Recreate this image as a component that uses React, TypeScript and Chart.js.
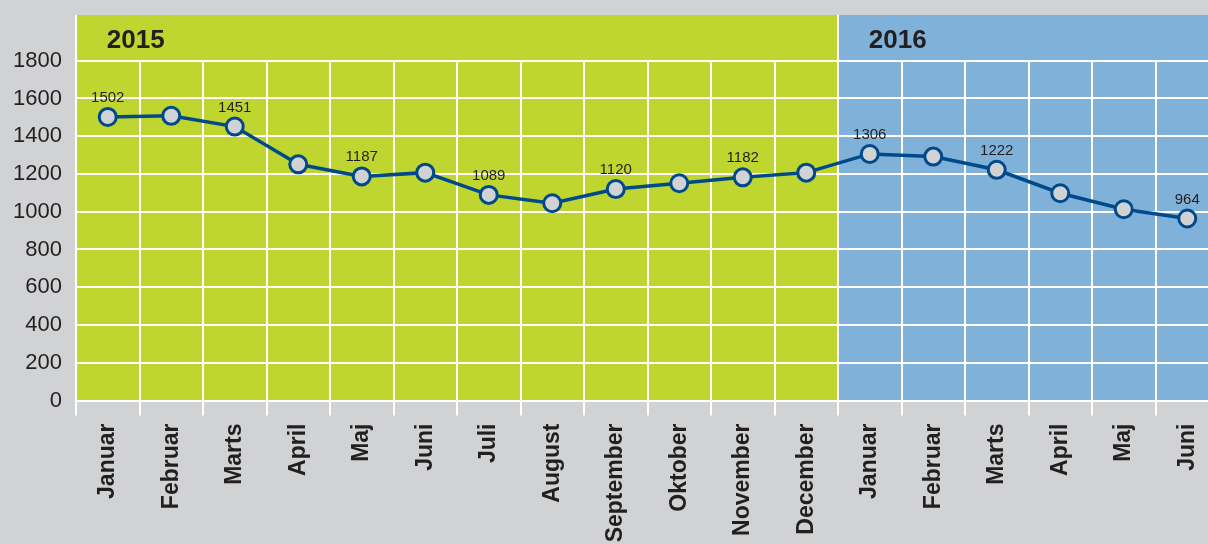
import React, { useEffect, useRef } from "react";
import { Chart, registerables } from "chart.js";

Chart.register(...registerables);

const months = [
  "Januar", "Februar", "Marts", "April", "Maj", "Juni", "Juli", "August",
  "September", "Oktober", "November", "December",
  "Januar", "Februar", "Marts", "April", "Maj", "Juni",
];
const values = [
  1502, 1508, 1451, 1251, 1187, 1207, 1089, 1045, 1120, 1151, 1182, 1207,
  1306, 1292, 1222, 1098, 1013, 964,
];
const labeledIndices = [0, 2, 4, 6, 8, 10, 12, 14, 17];
const yearLabels = ["2015", "2016"];
const yearStarts = [0, 12];
const yTicks = [0, 200, 400, 600, 800, 1000, 1200, 1400, 1600, 1800];
const yMax = 2042;

const BG = "#d1d2d4";
const GREEN = "#bed62f";
const BLUE = "#80b1d9";
const LINE = "#00498a";
const TEXT = "#231f20";
const FONT = "'Liberation Sans', Arial, Helvetica, sans-serif";

const decorPlugin = {
  id: "decor",
  beforeDraw(chart: any) {
    const { ctx, chartArea, scales } = chart;
    const x = scales.x;
    ctx.save();
    ctx.fillStyle = BG;
    ctx.fillRect(0, 0, chart.width, chart.height);
    const split = x.getPixelForValue(yearStarts[1] - 0.5);
    ctx.fillStyle = GREEN;
    ctx.fillRect(chartArea.left, chartArea.top, split - chartArea.left, chartArea.bottom - chartArea.top);
    ctx.fillStyle = BLUE;
    ctx.fillRect(split, chartArea.top, chart.width - split, chartArea.bottom - chartArea.top);
    ctx.restore();
  },
  beforeDatasetsDraw(chart: any) {
    const { ctx, chartArea, scales } = chart;
    const x = scales.x;
    const y = scales.y;
    const tickLen = 15;
    ctx.save();
    ctx.strokeStyle = "#ffffff";
    ctx.lineWidth = 2;
    yTicks.forEach((v) => {
      const py = Math.round(y.getPixelForValue(v));
      ctx.beginPath();
      ctx.moveTo(chartArea.left, py);
      ctx.lineTo(chart.width, py);
      ctx.stroke();
    });
    const gridTop = y.getPixelForValue(yTicks[yTicks.length - 1]);
    for (let i = 0; i < months.length; i++) {
      const px = Math.round(x.getPixelForValue(i - 0.5));
      const isSplit = yearStarts.includes(i);
      ctx.beginPath();
      ctx.moveTo(px, isSplit ? chartArea.top : gridTop);
      ctx.lineTo(px, chartArea.bottom + tickLen);
      ctx.stroke();
    }
    ctx.fillStyle = TEXT;
    ctx.font = `bold 26px ${FONT}`;
    ctx.textAlign = "left";
    ctx.textBaseline = "alphabetic";
    yearLabels.forEach((lab, k) => {
      const px = x.getPixelForValue(yearStarts[k]);
      ctx.fillText(lab, px - 1, chartArea.top + 33);
    });
    ctx.restore();
  },
  afterDatasetsDraw(chart: any) {
    const { ctx } = chart;
    const meta = chart.getDatasetMeta(0);
    ctx.save();
    ctx.fillStyle = TEXT;
    ctx.font = `15px ${FONT}`;
    ctx.textAlign = "center";
    ctx.textBaseline = "alphabetic";
    labeledIndices.forEach((i) => {
      const pt = meta.data[i];
      ctx.fillText(String(values[i]), pt.x, pt.y - 15);
    });
    ctx.restore();
  },
};

export default function App() {
  const ref = useRef<HTMLCanvasElement | null>(null);

  useEffect(() => {
    if (!ref.current) return;
    const chart = new Chart(ref.current, {
      type: "line",
      data: {
        labels: months,
        datasets: [
          {
            data: values,
            borderColor: LINE,
            borderWidth: 3.5,
            pointRadius: 8.5,
            pointBorderWidth: 3,
            pointBackgroundColor: BG,
            pointBorderColor: LINE,
            tension: 0,
            clip: false,
          },
        ],
      },
      options: {
        animation: false,
        responsive: true,
        maintainAspectRatio: false,
        devicePixelRatio: 1,
        layout: { autoPadding: false, padding: { top: 15, left: 0, right: 0, bottom: 0 } },
        plugins: {
          legend: { display: false },
          tooltip: { enabled: false },
        },
        scales: {
          x: {
            type: "category",
            offset: true,
            grid: { display: true, color: "rgba(0,0,0,0)", tickLength: 15, drawOnChartArea: false },
            border: { display: false },
            ticks: {
              minRotation: 90,
              maxRotation: 90,
              autoSkip: false,
              padding: 8,
              color: TEXT,
              font: { family: FONT, size: 23, weight: "bold" },
            },
            afterFit: (s: any) => {
              s.height = 143.5;
              s.paddingLeft = 0;
              s.paddingRight = 0;
            },
          },
          y: {
            min: 0,
            max: yMax,
            afterBuildTicks: (s: any) => {
              s.ticks = yTicks.map((v) => ({ value: v }));
            },
            grid: { display: false, drawTicks: false },
            border: { display: false },
            ticks: {
              padding: 14,
              color: TEXT,
              font: { family: FONT, size: 22 },
              callback: (v: any) => String(v),
            },
            afterFit: (s: any) => {
              s.width = 76;
              s.paddingTop = 0;
              s.paddingBottom = 0;
            },
          },
        },
      },
      plugins: [decorPlugin],
    } as any);
    return () => chart.destroy();
  }, []);

  return (
    <div
      style={{
        position: "fixed",
        left: 0,
        top: 0,
        width: 1208,
        height: 544,
        overflow: "hidden",
        background: BG,
      }}
    >
      <div style={{ position: "relative", width: 1219, height: 544 }}>
        <canvas ref={ref} />
      </div>
    </div>
  );
}
